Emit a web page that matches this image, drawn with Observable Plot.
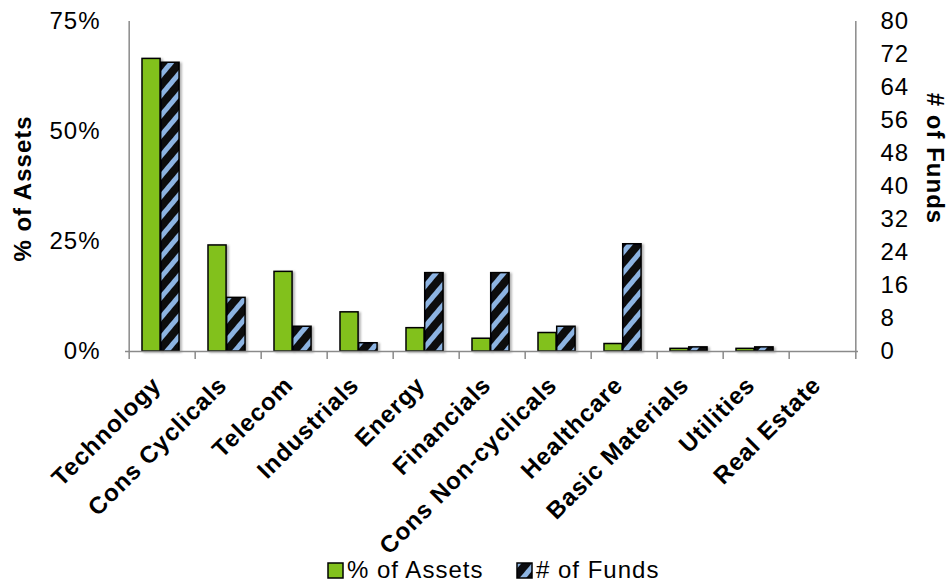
<!DOCTYPE html>
<html>
<head>
<meta charset="utf-8">
<script src="https://cdn.jsdelivr.net/npm/d3@7"></script>
<script src="https://cdn.jsdelivr.net/npm/@observablehq/plot@0.6"></script>
<style>
  body { margin: 0; background: #fff; }
  #wrap { position: relative; width: 949px; height: 584px; overflow: hidden; font-family: "Liberation Sans", Arial, sans-serif; }
  #legend { position: absolute; left: 0; top: 552px; width: 949px; height: 32px; font-size: 24px; letter-spacing: 1px; color: #000; }
  .item { position: absolute; top: 4px; display: flex; align-items: center; white-space: nowrap; line-height: 28px; }
  .item svg { margin-right: 3px; }
</style>
</head>
<body>
<div id="wrap">
  <div id="chart"></div>
  <div id="legend">
    <div class="item" style="left:327px"><svg width="17" height="17"><rect x="1" y="1" width="15" height="15" fill="#82c11d" stroke="#000" stroke-width="1.5"/></svg><span>% of Assets</span></div>
    <div class="item" style="left:516px"><svg width="17" height="17"><rect x="1" y="1" width="15" height="15" fill="url(#hatch)" stroke="#000" stroke-width="1.5"/></svg><span># of Funds</span></div>
  </div>
</div>
<script>
const categories = ["Technology", "Cons Cyclicals", "Telecom", "Industrials", "Energy", "Financials", "Cons Non-cyclicals", "Healthcare", "Basic Materials", "Utilities", "Real Estate"];
const pctAssets = [66.5, 24.1, 18.1, 8.9, 5.3, 2.9, 4.2, 1.7, 0.6, 0.6, 0];
const numFunds = [70, 13, 6, 2, 19, 19, 6, 26, 1, 1, 0];
const pctTicks = [0, 25, 50, 75];
const fundTicks = [0, 8, 16, 24, 32, 40, 48, 56, 64, 72, 80];
const PCT_MAX = 75, FUND_MAX = 80;

const toPct = f => f * PCT_MAX / FUND_MAX;
const fromPct = p => p * FUND_MAX / PCT_MAX;
const rows = categories.map((c, i) => ({category: c, pct: pctAssets[i], funds: numFunds[i]}));

const W = 949, H = 552, ML = 125, MR = 91, MT = 21, MB = 201;
const bw = (W - ML - MR) / categories.length;
const gray = "#8a8a8a";

const svg = Plot.plot({
  width: W, height: H,
  marginLeft: ML, marginRight: MR, marginTop: MT, marginBottom: MB,
  style: {fontFamily: "'Liberation Sans', Arial, sans-serif", fontSize: "24px", color: "#000", background: "#fff", overflow: "visible", letterSpacing: "1px"},
  x: {domain: categories, padding: 0, axis: null},
  y: {domain: [0, PCT_MAX], axis: null},
  marks: [
    Plot.axisY({ticks: pctTicks, tickFormat: d => d + "%", tickSize: 0, tickPadding: 25, anchor: "left", label: null}),
    Plot.axisY({ticks: fundTicks.map(toPct), tickFormat: d => String(Math.round(fromPct(d))), tickSize: 0, tickPadding: 22, anchor: "right", label: null}),
    Plot.barY(rows, {x: "category", y: "pct", fill: "#82c11d", stroke: "#000", strokeWidth: 1.5, insetLeft: 13, insetRight: bw - 31.7}),
    Plot.barY(rows, {x: "category", y: d => toPct(d.funds), fill: "url(#hatch)", stroke: "#000", strokeWidth: 1.5, insetLeft: 31.7, insetRight: bw - 50.7}),
    Plot.ruleY([0], {stroke: gray, strokeWidth: 1.5}),
    Plot.ruleX([categories[0]], {dx: -bw / 2, y1: 0, y2: PCT_MAX, stroke: gray, strokeWidth: 1.5}),
    Plot.ruleX([categories[categories.length - 1]], {dx: bw / 2, y1: 0, y2: PCT_MAX, stroke: gray, strokeWidth: 1.5}),
    Plot.ruleX(categories, {dx: -bw / 2, y1: 0, y2: 0, insetBottom: -8, stroke: gray, strokeWidth: 1.5}),
    Plot.ruleX([categories[categories.length - 1]], {dx: bw / 2, y1: 0, y2: 0, insetBottom: -8, stroke: gray, strokeWidth: 1.5}),
    Plot.text(categories, {x: d => d, y: 0, text: d => d, rotate: -45, textAnchor: "end", lineAnchor: "bottom", dx: 0, dy: 35, fontWeight: "bold", fontSize: 24}),
    Plot.text(["% of Assets"], {frameAnchor: "left", textAnchor: "middle", text: d => d, rotate: -90, dx: -102, dy: 2, fontWeight: "bold", fontSize: 24}),
    Plot.text(["# of Funds"], {frameAnchor: "right", textAnchor: "middle", text: d => d, rotate: 90, dx: 76, dy: -28, fontWeight: "bold", fontSize: 24})
  ]
});

d3.select(svg).insert("defs", ":first-child").html(`
  <pattern id="hatch" patternUnits="userSpaceOnUse" width="13" height="13" patternTransform="rotate(40)">
    <rect width="13" height="13" fill="#0c0c10"/>
    <rect width="5" height="13" fill="#8db4e2"/>
  </pattern>
  <filter id="shadow" x="-20%" y="-5%" width="150%" height="115%">
    <feDropShadow dx="2" dy="1" stdDeviation="1.2" flood-color="#000" flood-opacity="0.3"/>
  </filter>`);
d3.select(svg).selectAll("g[aria-label='bar']").attr("filter", "url(#shadow)");

document.getElementById("chart").appendChild(svg);
</script>
</body>
</html>
